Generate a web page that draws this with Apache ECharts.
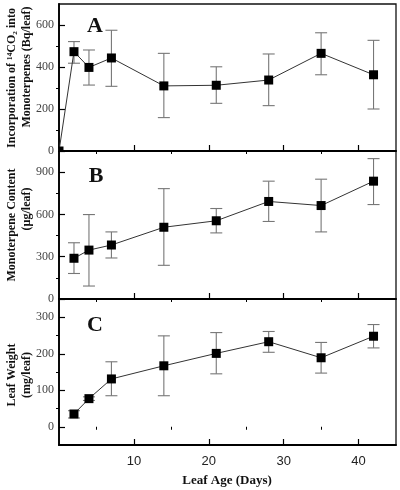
<!DOCTYPE html>
<html><head><meta charset="utf-8">
<script src="https://cdn.jsdelivr.net/npm/echarts@6/dist/echarts.min.js"></script>
<style>html,body{margin:0;padding:0;background:#fff}#c{width:400px;height:490px}</style>
</head><body><div id="c"></div>
<script>
// Leaf age (days)
const days = [2, 4, 7, 14, 21, 28, 35, 42];
// Panel A: incorporation of 14CO2 into monoterpenes (Bq/leaf)
const originPoint = [0, 0];
const incorp   = [473, 398, 443, 310, 313, 338, 465, 363];
const incorpLo = [418, 314, 308, 159, 227, 216, 363, 200];
const incorpHi = [521, 481, 575, 465, 401, 462, 563, 527];
// Panel B: monoterpene content (µg/leaf)
const content   = [289, 347, 383, 509, 555, 692, 663, 836];
const contentLo = [181, 92, 291, 239, 469, 550, 476, 670];
const contentHi = [399, 599, 476, 783, 642, 836, 850, 996];
// Panel C: leaf weight (mg/leaf)
const weight   = [35, 77, 131, 167, 201, 233, 189, 248];
const weightLo = [24, 72, 85, 85, 145, 204, 147, 216];
const weightHi = [44, 82, 178, 249, 258, 261, 231, 280];
// Ticks
const xTicks = [10, 20, 30, 40];
const xMinor = [5, 15, 25, 35];
const yTicksA = [0, 200, 400, 600];
const yMinorA = [100, 300, 500];
const yTicksB = [0, 300, 600, 900];
const yMinorB = [150, 450, 750];
const yTicksC = [0, 100, 200, 300];
const yMinorC = [50, 150, 250];

const chart = echarts.init(document.getElementById('c'), null, {renderer: 'canvas'});
const serif = '"Liberation Serif","Times New Roman",serif';
const sans = '"Liberation Sans",Arial,sans-serif';

const grids = [
  {left: 59, top: 4, width: 337, height: 147},
  {left: 59, top: 151, width: 337, height: 148},
  {left: 59, top: 299, width: 337, height: 146}
].map(g => Object.assign(g, {show: true, borderColor: '#111', borderWidth: 1.3, backgroundColor: 'transparent', containLabel: false}));

const yRanges = [[0, 700], [0, 1050], [-50, 350]];
const yMajors = [yTicksA, yTicksB, yTicksC];
const yMinors = [yMinorA, yMinorB, yMinorC];

const xAxes = [], yAxes = [];
for (let i = 0; i < 3; i++) {
  xAxes.push({type: 'value', gridIndex: i, min: 0, max: 45,
    axisLine: {show: true, onZero: false, lineStyle: {color: '#000', width: 1.8}},
    axisTick: {show: true, inside: true, length: 6, customValues: xTicks, lineStyle: {color: '#000', width: 1.2}},
    axisLabel: {show: i === 2, customValues: xTicks, fontFamily: sans, fontSize: 13, color: '#222', margin: 10},
    splitLine: {show: false}});
}
for (let i = 0; i < 3; i++) {
  xAxes.push({type: 'value', gridIndex: i, min: 0, max: 45,
    axisLine: {show: false},
    axisTick: {show: true, inside: true, length: 3, customValues: xMinor, lineStyle: {color: '#000', width: 1}},
    axisLabel: {show: false}, splitLine: {show: false}});
}
for (let i = 0; i < 3; i++) {
  yAxes.push({type: 'value', gridIndex: i, min: yRanges[i][0], max: yRanges[i][1],
    axisLine: {show: true, onZero: false, lineStyle: {color: '#000', width: 1.8}},
    axisTick: {show: true, inside: true, length: 6, customValues: yMajors[i], lineStyle: {color: '#000', width: 1.2}},
    axisLabel: {show: true, customValues: yMajors[i], fontFamily: serif, fontSize: 12, color: '#444', margin: 5},
    splitLine: {show: false}});
}
for (let i = 0; i < 3; i++) {
  yAxes.push({type: 'value', gridIndex: i, min: yRanges[i][0], max: yRanges[i][1],
    axisLine: {show: false},
    axisTick: {show: true, inside: true, length: 3, customValues: yMinors[i], lineStyle: {color: '#000', width: 1}},
    axisLabel: {show: false}, splitLine: {show: false}});
}

function errData(lo, hi) { return days.map((d, k) => [d, lo[k], hi[k]]); }
function errSeries(i, lo, hi) {
  return {type: 'custom', xAxisIndex: i, yAxisIndex: i, z: 1, data: errData(lo, hi),
    renderItem: function (params, api) {
      const x = api.value(0);
      const pHi = api.coord([x, api.value(2)]);
      const pLo = api.coord([x, api.value(1)]);
      const w = 6;
      const st = {stroke: '#777', lineWidth: 1.1};
      return {type: 'group', children: [
        {type: 'line', shape: {x1: pHi[0], y1: pHi[1], x2: pLo[0], y2: pLo[1]}, style: st},
        {type: 'line', shape: {x1: pHi[0] - w, y1: pHi[1], x2: pHi[0] + w, y2: pHi[1]}, style: st},
        {type: 'line', shape: {x1: pLo[0] - w, y1: pLo[1], x2: pLo[0] + w, y2: pLo[1]}, style: st}
      ]};
    }};
}
function lineSeries(i, data) {
  return {type: 'line', xAxisIndex: i, yAxisIndex: i, z: 3, data: data,
    symbol: 'rect', symbolSize: 9, showAllSymbol: true,
    lineStyle: {color: '#333', width: 1}, itemStyle: {color: '#000'}, animation: false};
}

const txt = (x, y, text, size, rot) => ({type: 'text', x: x, y: y, rotation: rot || 0,
  style: {text: text, fontFamily: serif, fontWeight: 'bold', fontSize: size, fill: '#111', align: 'center', verticalAlign: 'middle'}});

chart.setOption({
  animation: false,
  grid: grids,
  xAxis: xAxes,
  yAxis: yAxes,
  series: [
    errSeries(0, incorpLo, incorpHi),
    lineSeries(0, [{value: originPoint, symbolSize: 5, symbolOffset: [2, -2]}].concat(days.map((d, k) => [d, incorp[k]]))),
    errSeries(1, contentLo, contentHi),
    lineSeries(1, days.map((d, k) => [d, content[k]])),
    errSeries(2, weightLo, weightHi),
    lineSeries(2, days.map((d, k) => [d, weight[k]]))
  ],
  graphic: [
    txt(95, 26, 'A', 22),
    txt(96, 176, 'B', 22),
    txt(95, 325, 'C', 22),
    txt(12, 78, 'Incorporation of ¹⁴CO₂ into', 12, Math.PI / 2),
    txt(27, 67, 'Monoterpenes (Bq/leaf)', 12, Math.PI / 2),
    txt(12, 225, 'Monoterpene Content', 12, Math.PI / 2),
    txt(27, 209, '(µg/leaf)', 12, Math.PI / 2),
    txt(12, 375, 'Leaf Weight', 12, Math.PI / 2),
    txt(27, 375, '(mg/leaf)', 12, Math.PI / 2),
    txt(227, 481, 'Leaf Age (Days)', 13, 0)
  ]
});
</script></body></html>
